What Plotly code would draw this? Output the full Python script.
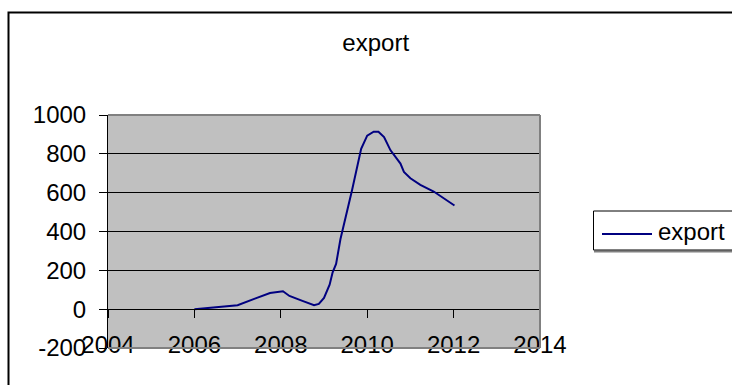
import plotly.graph_objects as go

# Export series (fractional years) and its values
years = [2006.0, 2007.0, 2007.4, 2007.75, 2008.05, 2008.2, 2008.5, 2008.77, 2008.88,
         2009.0, 2009.13, 2009.2, 2009.28, 2009.38, 2009.65, 2009.86, 2010.0, 2010.15,
         2010.26, 2010.39, 2010.54, 2010.77, 2010.85, 2011.0, 2011.23, 2011.54, 2012.02]
export = [0, 20, 54, 83, 92, 68, 43, 20, 27,
          58, 126, 190, 233, 360, 614, 826, 894, 914,
          914, 886, 818, 750, 707, 674, 640, 606, 534]

x_ticks = [2004, 2006, 2008, 2010, 2012, 2014]
y_ticks = [-200, 0, 200, 400, 600, 800, 1000]
y_labels = ["-200", "0", "200", "400", "600", "800", "1000"]

W, H = 732, 385
L, R, T, B = 108, 540, 115, 348   # plot area in pixels

def px(xp):
    return (xp - L) / (R - L)

def py(yp):
    return (B - yp) / (B - T)

FONT = "Liberation Sans, Arial, sans-serif"
NAVY = "#000080"

fig = go.Figure()
fig.add_trace(go.Scatter(x=years, y=export, mode="lines", name="export",
                         line=dict(color=NAVY, width=2), showlegend=False))
# invisible trace carrying the category axis that sits on the zero line
fig.add_trace(go.Scatter(x=[2004, 2014], y=[0, 0], mode="lines", xaxis="x2",
                         line=dict(width=0), hoverinfo="skip", showlegend=False))

fig.update_layout(
    width=W, height=H,
    margin=dict(l=L, r=W - R, t=T, b=H - B),
    paper_bgcolor="white",
    plot_bgcolor="#c0c0c0",
    font=dict(family=FONT, size=24, color="black"),
    title=dict(text="export", x=375.7 / W, xref="container", xanchor="center",
               y=1 - 43 / H, yref="container", yanchor="middle",
               font=dict(family=FONT, size=24, color="black")),
    xaxis=dict(range=[2004, 2014], tickvals=x_ticks, ticktext=[str(v) for v in x_ticks],
               showgrid=False, zeroline=False, showline=False, ticks="",
               anchor="free", position=0.085, tickfont=dict(size=24)),
    xaxis2=dict(range=[2004, 2014], tickvals=x_ticks, overlaying="x", anchor="free",
                position=200 / 1200, showline=True, linecolor="black", linewidth=1,
                ticks="outside", ticklen=8, tickcolor="black", tickwidth=1,
                showticklabels=False, showgrid=False, zeroline=False),
    yaxis=dict(range=[-200, 1000], tickvals=y_ticks, ticktext=y_labels,
               showgrid=True, gridcolor="black",
               gridwidth=1, zeroline=False, showline=True, linecolor="black", linewidth=1,
               ticks="outside", ticklen=8, tickcolor="black", ticklabelstandoff=8,
               tickfont=dict(size=24)),
)

GRAY = "#808080"
shapes = [
    # plot area frame (top, right, bottom)
    dict(type="line", xref="paper", yref="paper", x0=0, x1=1, y0=1, y1=1,
         line=dict(color=GRAY, width=2), layer="above"),
    dict(type="line", xref="paper", yref="paper", x0=1, x1=1, y0=0, y1=1,
         line=dict(color=GRAY, width=2), layer="above"),
    dict(type="line", xref="paper", yref="paper", x0=0, x1=1, y0=0, y1=0,
         line=dict(color=GRAY, width=2), layer="above"),
    # outer chart frame
    dict(type="rect", xref="paper", yref="paper", x0=px(8.5), x1=px(760),
         y0=py(400), y1=py(12.5), line=dict(color="black", width=2), layer="above"),
    # legend box with shadow
    dict(type="line", xref="paper", yref="paper", x0=px(594), x1=px(760),
         y0=py(251.5), y1=py(251.5), line=dict(color=GRAY, width=2), layer="above"),
    dict(type="rect", xref="paper", yref="paper", x0=px(593.5), x1=px(760),
         y0=py(250), y1=py(211), line=dict(color="black", width=1), layer="above"),
    dict(type="line", xref="paper", yref="paper", x0=px(602), x1=px(652),
         y0=py(234), y1=py(234), line=dict(color=NAVY, width=2), layer="above"),
]
fig.update_layout(shapes=shapes)
fig.add_annotation(text="export", xref="paper", yref="paper", x=px(656), y=py(231),
                   xanchor="left", yanchor="middle", showarrow=False,
                   font=dict(family=FONT, size=24, color="black"))

fig.write_html("out.html")
